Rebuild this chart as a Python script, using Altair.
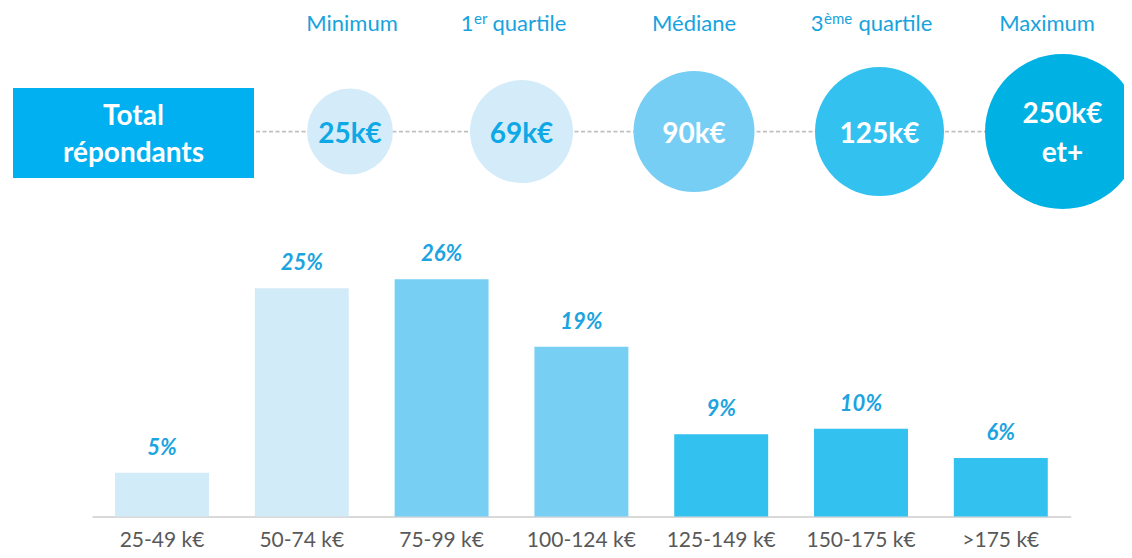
import altair as alt
import pandas as pd

# ---------------- data ----------------
CATEGORIES = ["25-49 k€", "50-74 k€", "75-99 k€", "100-124 k€", "125-149 k€", "150-175 k€", ">175 k€"]
SHARES = [4.8, 25.0, 26.0, 18.6, 9.0, 9.6, 6.4]
SHARE_LABELS = ["5%", "25%", "26%", "19%", "9%", "10%", "6%"]

# statistic names: (main, superscript, tail)
STAT_NAMES = [("Minimum", "", ""), ("1", "er", "quartile"), ("Médiane", "", ""),
              ("3", "ème", "quartile"), ("Maximum", "", "")]
STAT_VALUES = ["25k€", "69k€", "90k€", "125k€", "250k€ et+"]
GROUP_LABEL = ["Total", "répondants"]

# ---------------- styles ----------------
BAR_COLORS = ["#d2ebf9", "#d2ebf9", "#77cff4", "#77cff4", "#33c1ef", "#33c1ef", "#33c1ef"]
CIRCLE_FILL = ["#d4ecfa", "#d4ecfa", "#77cef4", "#33c2f0", "#00b1e3"]
CIRCLE_TEXT = ["#0ea8e6", "#0ea8e6", "#ffffff", "#ffffff", "#ffffff"]
HEADER_COLOR = "#17a3de"
LABEL_COLOR = "#1ba4e0"
BOX_COLOR = "#00b0f0"
FONT = "Lato"

# ---------------- layout (pixels in plot area) ----------------
W, H = 1116, 508.5
CIRCLE_X = [342, 513.5, 686, 871.5, 1054.5]
CIRCLE_D = [86, 103, 121, 129, 155]
ROW_Y = 123.6
HEADER_X = [344, 465.5, 686, 815.5, 1039]     # center, or anchor for split headers
HEADER_TAIL_X = [0, 484.5, 0, 850.5, 0]
HEADER_Y = 22.7
SUP_Y = 16.3

bar_df = pd.DataFrame({"category": CATEGORIES, "share": SHARES,
                       "label": SHARE_LABELS, "color": BAR_COLORS})

circ_df = pd.DataFrame({"px": CIRCLE_X, "py": [ROW_Y] * 5,
                        "size": [d * d for d in CIRCLE_D], "fill": CIRCLE_FILL})

val_rows = []
for v, cx, col in zip(STAT_VALUES, CIRCLE_X, CIRCLE_TEXT):
    parts = v.split(" ")
    ys = [135] if len(parts) == 1 else [115.3, 154]
    for p, y in zip(parts, ys):
        val_rows.append({"t": p, "px": cx, "py": y, "c": col})
val_df = pd.DataFrame(val_rows)

head_rows, sup_rows = [], []
for (main, sup, tail), hx, tx in zip(STAT_NAMES, HEADER_X, HEADER_TAIL_X):
    if sup:
        head_rows.append({"t": main, "px": hx, "py": HEADER_Y, "a": "right"})
        sup_rows.append({"t": sup, "px": hx + 0.5, "py": SUP_Y})
        head_rows.append({"t": tail, "px": tx, "py": HEADER_Y, "a": "left"})
    else:
        head_rows.append({"t": main, "px": hx, "py": HEADER_Y, "a": "center"})
head_df = pd.DataFrame(head_rows)
sup_df = pd.DataFrame(sup_rows)

box_df = pd.DataFrame({"x1": [5], "x2": [246], "y1": [80], "y2": [170]})
box_txt = pd.DataFrame({"t": GROUP_LABEL, "px": [125.5, 125.5], "py": [117, 153.7]})
line_df = pd.DataFrame({"x1": [248], "x2": [1000], "y": [ROW_Y]})

PX = alt.X("px:Q", scale=None, axis=None)
PY = alt.Y("py:Q", scale=None, axis=None)

x_enc = alt.X("category:N", sort=CATEGORIES,
              scale=alt.Scale(range=[84.1, 1062.7], paddingInner=0.328, paddingOuter=0.164),
              axis=alt.Axis(title=None, labelAngle=0, labelFont=FONT, labelFontSize=21,
                            labelColor="#595959", ticks=False, tickSize=0,
                            labelPadding=29.5, labelBaseline="alphabetic",
                            domainColor="#d9d9d9", domainWidth=2, grid=False))
y_enc = alt.Y("share:Q", scale=alt.Scale(domain=[0, 55.7], nice=False, zero=True), axis=None)

bars = alt.Chart(bar_df).mark_bar().encode(
    x=x_enc, y=y_enc, color=alt.Color("color:N", scale=None))
bar_labels = alt.Chart(bar_df).mark_text(
    font=FONT, fontSize=22, fontWeight="bold", fontStyle="italic",
    color=LABEL_COLOR, dy=-25, baseline="middle").encode(
    x=x_enc, y=y_enc, text="label:N")

dash = alt.Chart(line_df).mark_rule(color="#bfbfbf", strokeWidth=1.6, strokeDash=[4, 2.5]).encode(
    x=alt.X("x1:Q", scale=None, axis=None), x2="x2:Q",
    y=alt.Y("y:Q", scale=None, axis=None))

box = alt.Chart(box_df).mark_rect(color=BOX_COLOR).encode(
    x=alt.X("x1:Q", scale=None, axis=None), x2="x2:Q",
    y=alt.Y("y1:Q", scale=None, axis=None), y2="y2:Q")
box_text = alt.Chart(box_txt).mark_text(
    font=FONT, fontSize=28, fontWeight="bold", color="white",
    align="center", baseline="alphabetic").encode(x=PX, y=PY, text="t:N")

circles = alt.Chart(circ_df).mark_circle(opacity=1, strokeWidth=0).encode(
    x=PX, y=PY, size=alt.Size("size:Q", scale=None),
    color=alt.Color("fill:N", scale=None))
circ_text = alt.Chart(val_df).mark_text(
    font=FONT, fontSize=28, fontWeight="bold", align="center", baseline="alphabetic").encode(
    x=PX, y=PY, text="t:N", color=alt.Color("c:N", scale=None))

headers_c = alt.Chart(head_df[head_df.a == "center"]).mark_text(
    font=FONT, fontSize=22, color=HEADER_COLOR, baseline="alphabetic", align="center").encode(
    x=PX, y=PY, text="t:N")
headers_r = alt.Chart(head_df[head_df.a == "right"]).mark_text(
    font=FONT, fontSize=22, color=HEADER_COLOR, baseline="alphabetic", align="right").encode(
    x=PX, y=PY, text="t:N")
headers_l = alt.Chart(head_df[head_df.a == "left"]).mark_text(
    font=FONT, fontSize=22, color=HEADER_COLOR, baseline="alphabetic", align="left").encode(
    x=PX, y=PY, text="t:N")
sups = alt.Chart(sup_df).mark_text(
    font=FONT, fontSize=15, color=HEADER_COLOR, baseline="alphabetic", align="left").encode(
    x=PX, y=PY, text="t:N")

chart = alt.layer(
    bars, bar_labels, dash, box, box_text, circles, circ_text,
    headers_c, headers_r, headers_l, sups
).properties(
    width=W, height=H,
    autosize=alt.AutoSizeParams(type="none"),
    padding={"left": 0, "top": 0, "right": 0, "bottom": 33.5},
    background="white",
).configure_view(strokeWidth=0)

chart.save("out.html", embed_options={"renderer": "svg", "actions": False})
